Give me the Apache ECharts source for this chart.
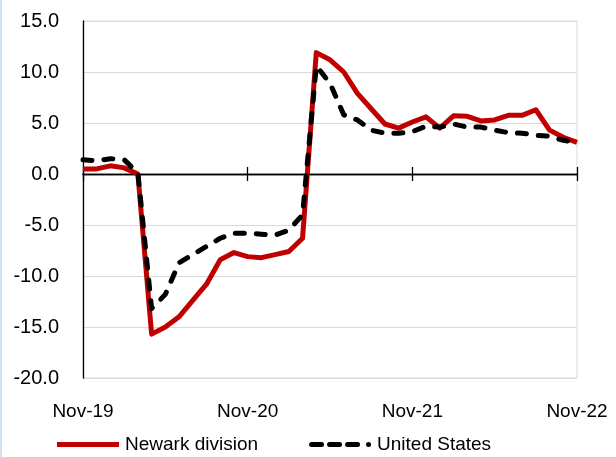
<!DOCTYPE html>
<html>
<head>
<meta charset="utf-8">
<script src="https://cdn.jsdelivr.net/npm/echarts@6/dist/echarts.min.js"></script>
<style>
  html, body { margin: 0; padding: 0; background: #fff; }
  #wrap { position: absolute; left: 0; top: 0; width: 616px; height: 457px; }
  #edge { position: absolute; left: 0; top: 0; width: 2px; height: 457px; background: #d3e1f4; z-index: 2; }
  #chart { position: absolute; left: 0; top: 0; width: 616px; height: 457px; }
</style>
</head>
<body>
<div id="wrap"><div id="edge"></div><div id="chart"></div></div>
<script>
const months = [
  "Nov-19","Dec-19","Jan-20","Feb-20","Mar-20","Apr-20","May-20","Jun-20","Jul-20","Aug-20","Sep-20","Oct-20",
  "Nov-20","Dec-20","Jan-21","Feb-21","Mar-21","Apr-21","May-21","Jun-21","Jul-21","Aug-21","Sep-21","Oct-21",
  "Nov-21","Dec-21","Jan-22","Feb-22","Mar-22","Apr-22","May-22","Jun-22","Jul-22","Aug-22","Sep-22","Oct-22",
  "Nov-22"
];
const newark = [
  0.5, 0.5, 0.8, 0.6, 0.0, -15.7, -15.0, -14.0, -12.4, -10.8, -8.4, -7.7,
  -8.1, -8.2, -7.9, -7.6, -6.3, 11.9, 11.2, 10.0, 7.9, 6.4, 4.9, 4.5,
  5.1, 5.6, 4.5, 5.7, 5.65, 5.2, 5.3, 5.75, 5.75, 6.3, 4.3, 3.6,
  3.1
];
const unitedStates = [
  1.4, 1.3, 1.5, 1.4, 0.1, -13.2, -11.8, -8.7, -7.9, -7.1, -6.3, -5.8,
  -5.8, -5.9, -6.0, -5.5, -4.0, 10.6, 8.9, 5.8, 5.3, 4.3, 4.0, 4.0,
  4.15, 4.7, 4.6, 4.9, 4.6, 4.6, 4.3, 4.05, 4.0, 3.8, 3.7, 3.3,
  3.1
];
const yTicks = { min: -20, max: 15, interval: 5 };

const FONT = "'Liberation Sans', Arial, sans-serif";
const chart = echarts.init(document.getElementById('chart'), null, { renderer: 'canvas' });
const tickAxis = (pos, yIdx) => ({
  type: 'category', data: months, boundaryGap: false, position: pos,
  axisLine: { show: true, onZero: true, onZeroAxisIndex: yIdx, lineStyle: { color: '#000', width: 1.3 } },
  axisTick: { show: true, interval: 11, length: 7, inside: false, lineStyle: { color: '#000', width: 1.3 } },
  axisLabel: { show: false },
  splitLine: { show: false }
});
chart.setOption({
  animation: false,
  backgroundColor: '#fff',
  grid: { left: 83, right: 39, top: 21, bottom: 79, show: true, borderColor: '#d9d9d9', borderWidth: 1, containLabel: false },
  legend: {
    left: 57, top: 435, padding: 0,
    itemWidth: 62, itemHeight: 5, itemGap: 51,
    textStyle: { fontFamily: FONT, fontSize: 19, color: '#000', padding: [0, 0, 0, 1] },
    data: [
      { name: 'Newark division', icon: 'path://M0,0H62V5H0Z' },
      { name: 'United States', icon: 'path://M2.5,0H12.5A2.5,2.5,0,0,1,12.5,5H2.5A2.5,2.5,0,0,1,2.5,0Z M20.5,0H30.5A2.5,2.5,0,0,1,30.5,5H20.5A2.5,2.5,0,0,1,20.5,0Z M38.5,0H48.5A2.5,2.5,0,0,1,48.5,5H38.5A2.5,2.5,0,0,1,38.5,0Z M59.5,0A2.5,2.5,0,0,1,59.5,5A2.5,2.5,0,0,1,59.5,0Z M0,2.5H0.01Z M62,2.5H61.99Z' }
    ]
  },
  xAxis: [
    {
      type: 'category', data: months, boundaryGap: false, position: 'bottom',
      axisLine: { show: false, onZero: false },
      axisTick: { show: false },
      axisLabel: { interval: 11, fontFamily: FONT, fontSize: 19, color: '#000', margin: 24 },
      splitLine: { show: false }
    },
    tickAxis('bottom', 0),
    tickAxis('top', 1)
  ],
  yAxis: [
    {
      type: 'value', min: yTicks.min, max: yTicks.max, interval: yTicks.interval,
      axisLine: { show: true, onZero: false, lineStyle: { color: '#000', width: 1.3 } },
      axisTick: { show: false },
      axisLabel: { fontFamily: FONT, fontSize: 20, color: '#000', margin: 24, formatter: v => v.toFixed(1) },
      splitLine: { show: true, lineStyle: { color: '#d9d9d9', width: 1 } }
    },
    {
      type: 'value', min: yTicks.min, max: yTicks.max, interval: yTicks.interval, position: 'right',
      axisLine: { show: false, onZero: false },
      axisTick: { show: false },
      axisLabel: { show: false },
      splitLine: { show: false }
    }
  ],
  series: [
    {
      name: 'Newark division', type: 'line', data: newark, xAxisIndex: 0, yAxisIndex: 0,
      symbol: 'none', smooth: false,
      lineStyle: { color: '#c00000', width: 5, join: 'round' },
      itemStyle: { color: '#c00000' }, z: 2
    },
    {
      name: 'United States', type: 'line', data: unitedStates, xAxisIndex: 0, yAxisIndex: 0,
      symbol: 'none', smooth: false,
      lineStyle: { color: '#000', width: 5, type: [9, 12], cap: 'round', join: 'round' },
      itemStyle: { color: '#000' }, z: 3
    }
  ]
});
</script>
</body>
</html>
